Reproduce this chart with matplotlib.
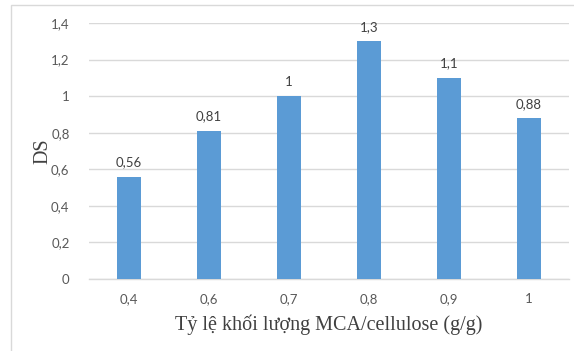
import matplotlib
matplotlib.use("Agg")
import matplotlib.pyplot as plt
from matplotlib.patches import Rectangle

categories = ["0,4", "0,6", "0,7", "0,8", "0,9", "1"]
ds_values = [0.56, 0.81, 1.0, 1.3, 1.1, 0.88]
value_labels = ["0,56", "0,81", "1", "1,3", "1,1", "0,88"]
y_ticks = [0, 0.2, 0.4, 0.6, 0.8, 1.0, 1.2, 1.4]
y_tick_labels = ["0", "0,2", "0,4", "0,6", "0,8", "1", "1,2", "1,4"]

W, H = 574, 351
fig = plt.figure(figsize=(W / 100, H / 100), dpi=100)
fig.patch.set_facecolor("white")

# outer chart frame (left and top edges visible)
fig.add_artist(Rectangle((11 / W, -0.1), 1.2, (H - 5) / H + 0.1,
                         transform=fig.transFigure, fill=False,
                         edgecolor="#D9D9D9", linewidth=1.0))

left, right, top, bottom = 89, 569, 23, 279
ax = fig.add_axes([left / W, 1 - bottom / H, (right - left) / W, (bottom - top) / H])

x = range(len(categories))
ax.bar(x, ds_values, width=0.31, color="#5B9BD5", zorder=3)
ax.set_xlim(-0.5, len(categories) - 0.5)
ax.set_ylim(0, 1.4)

ax.set_yticks(y_ticks)
ax.set_yticklabels(y_tick_labels)
ax.set_xticks(list(x))
ax.set_xticklabels(categories)

for lbl in ax.get_xticklabels() + ax.get_yticklabels():
    lbl.set_fontfamily("Lato")
    lbl.set_fontsize(9.5)
    lbl.set_color("#595959")

ax.tick_params(axis="both", length=0)
ax.tick_params(axis="y", pad=14)
ax.tick_params(axis="x", pad=10)

ax.grid(axis="y", color="#D9D9D9", linewidth=1.0, zorder=0)
for side in ["top", "right", "left"]:
    ax.spines[side].set_visible(False)
ax.spines["bottom"].set_color("#D9D9D9")
ax.spines["bottom"].set_linewidth(1.0)

for xi, v, t in zip(x, ds_values, value_labels):
    ax.annotate(t, (xi, v), xytext=(0, 6), textcoords="offset points",
                ha="center", va="bottom", fontfamily="Lato", fontsize=9.5,
                color="#404040")

ax.set_ylabel("DS", fontfamily="Liberation Serif", fontsize=14.5,
              color="#404040", labelpad=-1)
ax.set_xlabel("Tỷ lệ khối lượng MCA/cellulose (g/g)", fontfamily="Liberation Serif",
              fontsize=14.5, color="#404040", labelpad=7)

fig.savefig("out.png", dpi=100)
